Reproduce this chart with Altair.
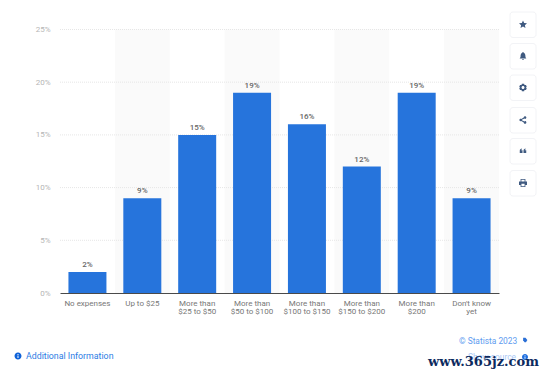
import altair as alt
import pandas as pd

categories = ["No expenses", "Up to $25", "More than|$25 to $50", "More than|$50 to $100",
              "More than|$100 to $150", "More than|$150 to $200", "More than|$200", "Don't know|yet"]
values = [2, 9, 15, 19, 16, 12, 19, 9]
shaded = categories[1::2]
ticks = [5, 10, 15, 20, 25]

OX, OY = 60, 29.5
W, H = 439, 263.5
FONT = "Roboto"
BLUE = "#2674dc"

def px(v):
    return alt.value(v - OX)

def py(v):
    return alt.value(v - OY)

df = pd.DataFrame({"cat": categories, "val": values})
df["lab"] = df["val"].astype(str) + "%"

x = alt.X("cat:N", sort=categories, title=None,
          scale=alt.Scale(domain=categories, paddingInner=0, paddingOuter=0),
          axis=alt.Axis(labelExpr="split(datum.label, '|')", labelAngle=0, labelAlign="center", labelColor="#777777",
                        labelFont=FONT, labelFontSize=8, labelPadding=6, labelLineHeight=8.5,
                        labelLimit=70, ticks=False, domainColor="#4a4a4a", domainWidth=1,
                        grid=False, zindex=2, labelBaseline="top"))
y = alt.Y("val:Q", title="Share of respondents",
          scale=alt.Scale(domain=[0, 25], nice=False),
          axis=alt.Axis(values=[0] + ticks, labelExpr="datum.value + '%'", labelColor="#b5b5b5",
                        labelFont=FONT, labelFontSize=8, labelPadding=10, ticks=False, domain=False,
                        grid=False, titleColor="#a8a8a8", titleFont=FONT, titleFontSize=7,
                        titleFontWeight="normal", titlePadding=9))

shade = alt.Chart(pd.DataFrame({"cat": shaded})).mark_bar(color="#fafafa", width={"band": 1}).encode(
    x=alt.X("cat:N", sort=categories, scale=alt.Scale(domain=categories, paddingInner=0, paddingOuter=0), title=None),
    y=alt.value(0), y2=alt.value(H))
grid = alt.Chart(pd.DataFrame({"t": ticks})).mark_rule(color="#e6e6e6", strokeWidth=1, strokeDash=[1, 1]).encode(
    y=alt.Y("t:Q", scale=alt.Scale(domain=[0, 25], nice=False), title=None))
bars = alt.Chart(df).mark_bar(color=BLUE, size=38).encode(x=x, y=y)
labels = alt.Chart(df).mark_text(color="#666666", font=FONT, fontSize=8, fontWeight=500, dy=-7).encode(
    x=alt.X("cat:N", sort=categories, title=None), y=alt.Y("val:Q", title=None), text="lab:N")

def txt(s, xp, yp, color, size, align="left", font=FONT, weight="normal"):
    return alt.Chart(pd.DataFrame({"s": [s]})).mark_text(
        color=color, fontSize=size, align=align, font=font, fontWeight=weight, baseline="middle"
    ).encode(x=px(xp), y=py(yp), text="s:N")

def box(x0, x1, y0, y1, fill, radius=0, stroke=None):
    kw = {"stroke": stroke, "strokeWidth": 1} if stroke else {}
    return alt.Chart(pd.DataFrame({"a": [0]})).mark_rect(fill=fill, cornerRadius=radius, **kw).encode(
        x=px(x0), x2=px(x1), y=py(y0), y2=py(y1))

def icon(path, xp, yp, size=80, color="#3f5a80"):
    return alt.Chart(pd.DataFrame({"a": [0]})).mark_point(
        shape=path, filled=True, color=color, opacity=1, size=size, strokeWidth=0
    ).encode(x=px(xp), y=py(yp))

STAR = "M0,-1L0.29,-0.36L1,-0.31L0.47,0.16L0.62,0.88L0,0.5L-0.62,0.88L-0.47,0.16L-1,-0.31L-0.29,-0.36Z"
BELL = "M-0.12,-1L0.12,-1L0.14,-0.8C0.55,-0.65,0.6,-0.3,0.6,0C0.6,0.3,0.7,0.45,0.85,0.6L-0.85,0.6C-0.7,0.45,-0.6,0.3,-0.6,0C-0.6,-0.3,-0.55,-0.65,-0.14,-0.8ZM-0.25,0.72L0.25,0.72C0.2,1.05,-0.2,1.05,-0.25,0.72Z"
GEAR = "M-0.3,-1L0.3,-1L0.4,-0.7L0.8,-0.7L1,-0.2L0.8,0L1,0.2L0.8,0.7L0.4,0.7L0.3,1L-0.3,1L-0.4,0.7L-0.8,0.7L-1,0.2L-0.8,0L-1,-0.2L-0.8,-0.7L-0.4,-0.7ZM0,-0.4A0.4,0.4,0,1,0,0,0.4A0.4,0.4,0,1,0,0,-0.4Z"
SHARE = "M0.55,-1A0.35,0.35,0,1,1,0.55,-0.3L0.4,-0.4L-0.3,-0.05L-0.3,0.05L0.4,0.4L0.55,0.3A0.35,0.35,0,1,1,0.2,0.65L-0.45,0.3A0.35,0.35,0,1,1,-0.45,-0.3L0.2,-0.65A0.35,0.35,0,0,1,0.55,-1Z"
QUOTE = "M-1,-0.1C-1,-0.5,-0.7,-0.7,-0.35,-0.75L-0.35,-0.5C-0.5,-0.45,-0.6,-0.35,-0.6,-0.2L-0.15,-0.2L-0.15,0.6L-1,0.6ZM0.15,-0.1C0.15,-0.5,0.45,-0.7,0.8,-0.75L0.8,-0.5C0.65,-0.45,0.55,-0.35,0.55,-0.2L1,-0.2L1,0.6L0.15,0.6Z"
PRINT = "M-0.6,-1L0.6,-1L0.6,-0.4L1,-0.4L1,0.5L0.6,0.5L0.6,1L-0.6,1L-0.6,0.5L-1,0.5L-1,-0.4L-0.6,-0.4ZM-0.4,-0.8L-0.4,-0.35L0.4,-0.35L0.4,-0.8ZM-0.4,0.2L-0.4,0.8L0.4,0.8L0.4,0.2Z"
CIRCLE_I = "M0,-1A1,1,0,1,1,0,1A1,1,0,1,1,0,-1ZM-0.14,-0.6L-0.14,-0.32L0.14,-0.32L0.14,-0.6ZM-0.14,-0.15L-0.14,0.6L0.14,0.6L0.14,-0.15Z"
FLAG = "M-0.8,-1L0.2,-1L1,0L0.4,1L-0.2,1L-0.8,0.1Z"

decor = []
for yc, path, s in [(24.5, STAR, 64), (56, BELL, 64), (87.5, GEAR, 56), (120, SHARE, 56), (151, QUOTE, 42), (183, PRINT, 64)]:
    decor.append(box(510, 536, yc - 12.5, yc + 13, "#ffffff", 3, "#f2f3f6"))
    decor.append(icon(path, 523, yc, s))

texts = [
    txt("© Statista 2023", 459, 341, "#5e9cf0", 8.4),
    icon(FLAG, 525, 340, 22, "#2a6fd6"),
    txt("Show source", 468, 357, "#a9c8f5", 8.4),
    icon(CIRCLE_I, 525, 357, 36, "#1f6fe0"),
    icon(CIRCLE_I, 18, 356, 49, "#0f62d8"),
    txt("Additional Information", 26, 356, "#2b7be4", 8.8),
    txt("www.365jz.com", 428, 362, "#0d2a5e", 13, font="DejaVu Serif", weight="bold"),
]

chart = alt.layer(shade, grid, bars, labels, *decor, *texts).resolve_scale(x="shared", y="shared").properties(
    width=W, height=H, background="#ffffff",
    padding={"left": OX - 8, "top": OY - 8, "right": 43, "bottom": 75.5},
    autosize=alt.AutoSizeParams(type="none"),
).configure_view(stroke=None)

chart.save("out.html", embed_options={"renderer": "svg", "actions": False})
